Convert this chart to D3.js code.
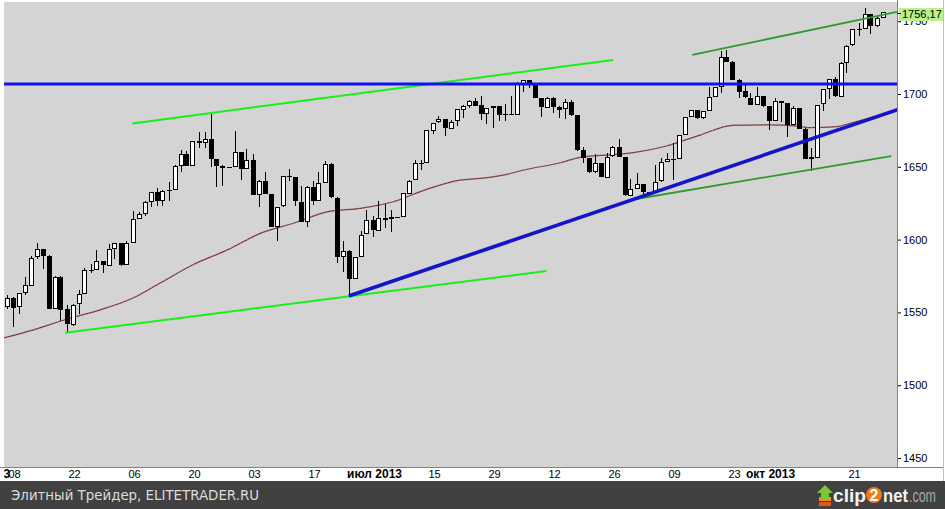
<!DOCTYPE html>
<html><head><meta charset="utf-8">
<script src="https://cdn.jsdelivr.net/npm/d3@7"></script>
<style>body{margin:0;background:#fff} svg{display:block;font-family:Arial,"Liberation Sans",sans-serif}</style>
</head><body><svg id="c" width="945" height="509"></svg>
<script>
// ---------------- data ----------------
const startDate = "2013-04-04";          // first bar (weekday series, holidays drawn flat)
const holidays = ["2013-05-27", "2013-07-04", "2013-09-02"];
const closes = [1560.0,1553.3,1563.1,1568.6,1587.7,1593.4,1588.9,1552.4,1574.6,1552.0,
1541.6,1555.3,1562.5,1578.8,1578.8,1585.2,1582.2,1593.6,1597.6,1582.7,
1597.6,1614.4,1617.5,1626.0,1632.7,1626.7,1633.7,1633.8,1650.3,1658.8,
1650.5,1667.5,1666.3,1669.2,1655.4,1650.5,1649.6,1649.6,1660.1,1648.4,
1654.4,1630.7,1640.4,1631.4,1608.9,1622.6,1643.4,1642.8,1626.1,1612.5,
1636.4,1626.7,1639.0,1651.8,1628.9,1588.2,1592.4,1573.1,1588.0,1603.3,
1613.2,1606.3,1615.0,1614.1,1615.4,1615.4,1631.9,1640.5,1652.3,1652.6,
1675.0,1680.2,1682.5,1676.3,1680.9,1689.4,1692.1,1695.5,1692.4,1685.9,
1690.3,1691.7,1685.3,1686.0,1685.7,1706.9,1709.7,1707.1,1697.4,1690.9,
1697.5,1691.4,1689.5,1694.2,1685.4,1661.3,1655.8,1646.1,1652.4,1642.8,
1657.0,1663.5,1656.8,1630.5,1635.0,1638.2,1633.0,1633.0,1639.8,1653.1,
1655.1,1655.2,1671.7,1684.0,1689.1,1683.4,1688.0,1697.6,1704.8,1725.5,
1722.3,1709.9,1701.8,1697.4,1692.8,1698.7,1691.8,1681.6,1695.0,1693.9,
1678.7,1690.5,1676.1,1655.5,1656.4,1692.6,1703.2,1710.1,1698.1,1721.5,
1733.2,1744.5,1744.7,1754.7,1746.4,1752.1,1756.2];
const opens = [1553.7,1560.0,1553.3,1563.1,1568.6,1587.7,1593.4,1588.9,1552.4,1574.6,
1552.0,1541.6,1555.3,1562.5,1578.8,1578.8,1585.2,1582.2,1593.6,1597.6,
1582.7,1597.6,1614.4,1617.5,1626.0,1632.7,1626.7,1633.7,1633.8,1650.3,
1658.8,1650.5,1667.5,1666.3,1669.2,1655.4,1650.5,1649.6,1649.6,1660.1,
1648.4,1654.4,1630.7,1640.4,1631.4,1608.9,1622.6,1643.4,1642.8,1626.1,
1612.5,1636.4,1626.7,1639.0,1651.8,1628.9,1588.2,1592.4,1573.1,1588.0,
1603.3,1613.2,1606.3,1615.0,1614.1,1615.4,1615.4,1631.9,1640.5,1652.3,
1652.6,1675.0,1680.2,1682.5,1676.3,1680.9,1689.4,1692.1,1695.5,1692.4,
1685.9,1690.3,1691.7,1685.3,1686.0,1685.7,1706.9,1709.7,1707.1,1697.4,
1690.9,1697.5,1691.4,1689.5,1694.2,1685.4,1661.3,1655.8,1646.1,1652.4,
1642.8,1657.0,1663.5,1656.8,1630.5,1635.0,1638.2,1633.0,1633.0,1639.8,
1653.1,1655.1,1655.2,1671.7,1684.0,1689.1,1683.4,1688.0,1697.6,1704.8,
1725.5,1722.3,1709.9,1701.8,1697.4,1692.8,1698.7,1691.8,1681.6,1695.0,
1693.9,1678.7,1690.5,1676.1,1655.5,1656.4,1692.6,1703.2,1710.1,1698.1,
1721.5,1733.2,1744.5,1744.7,1754.7,1746.4,1752.1];
const highs = [1562.0,1560.6,1563.1,1574.3,1588.5,1597.7,1593.4,1589.2,1575.0,1574.8,
1554.9,1556.0,1565.4,1580.3,1583.0,1592.9,1585.5,1596.8,1597.6,1597.6,
1599.2,1619.4,1619.2,1626.3,1632.7,1635.2,1634.0,1639.8,1651.2,1661.5,
1660.9,1667.5,1673.7,1674.0,1686.3,1655.4,1651.0,1649.6,1674.6,1660.1,
1662.2,1658.6,1640.7,1646.4,1631.1,1622.6,1643.5,1648.5,1643.0,1636.8,
1636.6,1640.5,1646.4,1654.2,1652.8,1629.1,1598.8,1592.9,1588.0,1606.1,
1620.1,1616.2,1626.3,1624.2,1620.3,1615.4,1631.9,1640.9,1654.7,1654.7,
1675.1,1680.2,1684.9,1682.8,1682.0,1689.7,1692.4,1695.7,1697.0,1698.4,
1690.3,1691.7,1691.7,1692.9,1698.6,1708.0,1709.7,1709.7,1707.1,1697.4,
1697.7,1697.7,1691.6,1696.8,1696.1,1685.6,1663.8,1655.8,1658.6,1652.4,
1659.3,1664.3,1669.1,1656.8,1641.4,1646.0,1638.2,1633.0,1651.2,1655.8,
1659.3,1666.1,1671.8,1684.0,1689.1,1689.2,1688.3,1704.6,1704.8,1729.5,
1730.2,1722.5,1710.1,1706.0,1700.5,1704.6,1698.7,1691.8,1697.0,1695.2,
1693.9,1691.8,1690.5,1676.4,1662.6,1692.6,1703.2,1710.1,1711.5,1722.0,
1733.4,1744.5,1749.0,1759.1,1754.7,1753.6,1756.5];
const lows = [1552.3,1539.8,1548.7,1562.0,1568.6,1586.5,1580.0,1552.1,1552.4,1544.3,
1536.1,1540.7,1548.7,1562.5,1576.8,1578.8,1577.3,1582.2,1586.7,1581.8,
1582.7,1597.5,1614.2,1616.0,1622.6,1623.3,1623.3,1626.5,1633.8,1646.6,
1650.5,1650.5,1662.7,1662.7,1649.7,1635.9,1637.0,1649.6,1649.6,1640.9,
1648.4,1630.7,1622.6,1631.1,1608.9,1599.0,1622.6,1640.0,1623.3,1612.3,
1608.9,1624.0,1626.7,1639.4,1628.9,1584.1,1577.7,1561.5,1573.1,1587.8,
1603.6,1602.0,1606.3,1607.8,1605.0,1615.4,1615.4,1631.7,1640.9,1648.0,
1652.4,1672.4,1679.9,1671.4,1676.4,1678.0,1683.3,1690.6,1692.0,1682.1,
1679.4,1676.4,1681.7,1681.7,1685.7,1685.7,1701.6,1703.9,1697.0,1684.4,
1690.9,1687.2,1683.3,1682.6,1685.1,1660.9,1652.8,1646.0,1646.0,1642.8,
1642.8,1657.0,1656.8,1630.2,1630.2,1635.0,1630.2,1633.0,1632.9,1639.8,
1653.1,1640.9,1655.2,1671.7,1684.0,1683.0,1683.0,1688.0,1697.6,1700.5,
1722.3,1709.9,1697.0,1697.4,1692.8,1692.8,1691.3,1675.3,1681.6,1680.6,
1670.7,1678.7,1676.1,1655.2,1647.1,1656.4,1688.5,1696.4,1697.7,1697.7,
1714.2,1733.2,1740.0,1744.7,1741.0,1746.3,1752.1];
// moving average (weekday index, value)
const maIdx = [-0.5,4.5,10,15.5,21,25.6,31,37,42.3,47.8,53.4,59,64.5,70,75.6,79,82.3,86.8,92.3,95.6,99,104.5,110,115.6,121,126.8,131.8,134,138.4,140.6,143.4,146.8];
const maVal = [1532.4,1538,1545.3,1551.6,1559.7,1570.2,1582.6,1593.3,1604.3,1611.2,1619,1621.5,1626,1634.5,1640.9,1642,1643.9,1648.3,1652.8,1656.5,1657.8,1659.7,1664.3,1671.8,1678.5,1678.8,1678,1676.9,1677.6,1679.9,1683.0,1686.7];
// drawn lines: [startIdx, startVal, endIdx, endVal]
const hLineLevel = 1706.9;
const trendBlue = [57.05, 1561.3, 148.5, 1689.2];
const limeLow  = [9.8, 1536.1, 90.0, 1578.4];
const limeHigh = [21.0, 1679.8, 101.1, 1723.4];
const greenHigh = [114.3, 1726.8, 148.5, 1756.5];
const greenLow  = [103.95, 1627.2, 147.45, 1657.4];
const yTicks = [1450, 1500, 1550, 1600, 1650, 1700, 1750];
const xTickDates  = ["2013-04-01","2013-04-08","2013-04-22","2013-05-06","2013-05-20","2013-06-03","2013-06-17","2013-07-01","2013-07-15","2013-07-29","2013-08-12","2013-08-26","2013-09-09","2013-09-23","2013-10-01","2013-10-21"];
const xTickLabels = ["апр 2013","08","22","06","20","03","17","июл 2013","15","29","12","26","09","23","окт 2013","21"];
const lastLabel = "1756,17";
const lastValue = 1756.2;
const footerText = "Элитный Трейдер, ELITETRADER.RU";

// ---------------- helpers ----------------
function wIndex(s){ // weekday index relative to startDate (Thu 2013-04-04)
  const base = Date.UTC(2013,3,1); // Monday
  const d = new Date(s+"T00:00:00Z");
  const days = Math.round((d-base)/864e5);
  return Math.floor(days/7)*5 + (days%7) - 3;
}
const bars = closes.map((c,i)=>({i, o:opens[i], h:highs[i], l:lows[i], c}));

const svg = d3.select("#c");
const W = 945, H = 509;
const plot = {x0:4, x1:897, y0:2, y1:467};

const x = d3.scaleLinear().domain([0, 146]).range([6.5, 882.5]);
const y = d3.scaleLinear().domain([1450, 1750]).range([458, 21.2]);

svg.append("rect").attr("width",W).attr("height",H).attr("fill","#fff");
svg.append("rect").attr("x",plot.x0).attr("y",plot.y0).attr("width",plot.x1-plot.x0).attr("height",plot.y1-plot.y0).attr("fill","#d4d4d4");

const defs = svg.append("defs");
defs.append("clipPath").attr("id","clip").append("rect")
  .attr("x",plot.x0).attr("y",plot.y0).attr("width",plot.x1-plot.x0).attr("height",plot.y1-plot.y0);
defs.append("clipPath").attr("id","xclip").append("rect")
  .attr("x",4).attr("y",plot.y1).attr("width",940).attr("height",14);
const g = svg.append("g").attr("clip-path","url(#clip)");

// moving average
const maLine = d3.line().x(d=>x(d[0])).y(d=>y(d[1])).curve(d3.curveMonotoneX);
const maPts = maIdx.map((v,i)=>[v, maVal[i]]);
g.append("path").attr("d", maLine(maPts)).attr("fill","none").attr("stroke","#7a3535").attr("stroke-width",1.2);
g.append("path").attr("d", maLine(maPts)).attr("fill","none").attr("stroke","#c89a9a").attr("stroke-width",0.6).attr("stroke-dasharray","1,3");

// candles
const cg = g.append("g").attr("shape-rendering","crispEdges");
bars.forEach(b=>{
  const cx = Math.round(x(b.i)) + 0.5;
  cg.append("line").attr("x1",cx).attr("x2",cx).attr("y1",y(b.h)).attr("y2",y(b.l)).attr("stroke","#000").attr("stroke-width",1);
  const yo = y(b.o), yc = y(b.c);
  const top = Math.min(yo,yc), hgt = Math.abs(yo-yc);
  if (hgt < 1.2) {
    cg.append("line").attr("x1",cx-2.5).attr("x2",cx+2.5).attr("y1",Math.round(top)+0.5).attr("y2",Math.round(top)+0.5).attr("stroke","#000").attr("stroke-width",1);
  } else {
    const up = b.c >= b.o;
    cg.append("rect").attr("x",cx-2).attr("y",Math.round(top)+0.5).attr("width",4).attr("height",Math.max(1,Math.round(hgt)-1))
      .attr("fill", up ? "#fff" : "#000").attr("stroke","#000").attr("stroke-width",1);
  }
});

// drawn lines
function seg(p, color, w){
  g.append("line").attr("x1",x(p[0])).attr("y1",y(p[1])).attr("x2",x(p[2])).attr("y2",y(p[3]))
   .attr("stroke",color).attr("stroke-width",w).attr("stroke-linecap","butt");
}
seg(limeLow, "#19f019", 2);
seg(limeHigh, "#19f019", 2);
seg(greenHigh, "#2e9a2e", 1.8);
seg(greenLow, "#2e9a2e", 1.8);
g.append("line").attr("x1",plot.x0).attr("x2",plot.x1).attr("y1",y(hLineLevel)).attr("y2",y(hLineLevel))
  .attr("stroke","#1010f5").attr("stroke-width",3);
seg(trendBlue, "#1414c8", 3.6);

// right axis
const ya = svg.append("g").attr("transform",`translate(${plot.x1},0)`)
  .call(d3.axisRight(y).tickValues(yTicks).tickSize(4).tickPadding(2).tickFormat(d=>String(d)));
ya.select(".domain").remove();
ya.selectAll("line").attr("stroke","#000");
ya.selectAll("text").attr("font-size",11).attr("font-family","Arial, 'Liberation Sans', sans-serif").attr("fill","#000");
svg.append("line").attr("x1",plot.x1+0.5).attr("x2",plot.x1+0.5).attr("y1",0).attr("y2",plot.y1+1).attr("stroke","#808080");

// last value label
const ly = Math.round(y(lastValue));
svg.append("rect").attr("x",plot.x1+2).attr("y",ly-4).attr("width",44).attr("height",13).attr("fill","#b8f28e");
svg.append("line").attr("x1",plot.x1).attr("x2",plot.x1+4).attr("y1",ly+1.5).attr("y2",ly+1.5).attr("stroke","#000");
svg.append("text").attr("x",plot.x1+5).attr("y",ly+6).attr("font-size",11).attr("fill","#000").text(lastLabel);

// bottom axis
svg.append("line").attr("x1",0).attr("x2",943).attr("y1",plot.y1+0.5).attr("y2",plot.y1+0.5).attr("stroke","#808080");
svg.append("line").attr("x1",943.5).attr("x2",943.5).attr("y1",0).attr("y2",481).attr("stroke","#c0c0c0");
const xl = svg.append("g").attr("clip-path","url(#xclip)");
xTickDates.forEach((d,k)=>{
  const lab = xTickLabels[k];
  const bold = lab.length > 3;
  xl.append("text").attr("x", x(wIndex(d)) - 4).attr("y", 478).attr("text-anchor","middle")
    .attr("font-size", bold ? 12 : 11).attr("font-weight", bold ? "bold" : "normal").attr("fill","#000").text(lab);
});

// footer
svg.append("rect").attr("x",0).attr("y",481).attr("width",W).attr("height",28).attr("fill","#414141");
svg.append("text").attr("x",11).attr("y",500).attr("font-size",14).attr("fill","#dcdcdc")
  .attr("font-family","'DejaVu Sans', Verdana, sans-serif").attr("textLength",248).attr("lengthAdjust","spacingAndGlyphs").text(footerText);
// clip2net logo
const lg = svg.append("g");
lg.append("rect").attr("x",819).attr("y",497).attr("width",12).attr("height",4).attr("fill","#f08c1e");
lg.append("rect").attr("x",819).attr("y",502).attr("width",12).attr("height",4).attr("fill","#e05a14");
lg.append("path").attr("d","M825,485 L833,493 L829,493 L829,500 L821,500 L821,493 L817,493 Z").attr("fill","#7cc43a");
lg.append("text").attr("x",833).attr("y",502).attr("font-size",19).attr("font-weight","bold").attr("fill","#f4f4f4")
  .attr("textLength",33).attr("lengthAdjust","spacingAndGlyphs").text("clip");
lg.append("circle").attr("cx",874).attr("cy",495).attr("r",8).attr("fill","#f07a18");
lg.append("text").attr("x",874).attr("y",501).attr("text-anchor","middle").attr("font-size",16).attr("font-weight","bold").attr("fill","#fff").text("2");
lg.append("text").attr("x",883).attr("y",502).attr("font-size",19).attr("font-weight","bold").attr("fill","#f4f4f4")
  .attr("textLength",25).attr("lengthAdjust","spacingAndGlyphs").text("net");
lg.append("text").attr("x",909).attr("y",502).attr("font-size",18).attr("fill","#a8a8a8")
  .attr("textLength",27).attr("lengthAdjust","spacingAndGlyphs").text(".com");
</script></body></html>
